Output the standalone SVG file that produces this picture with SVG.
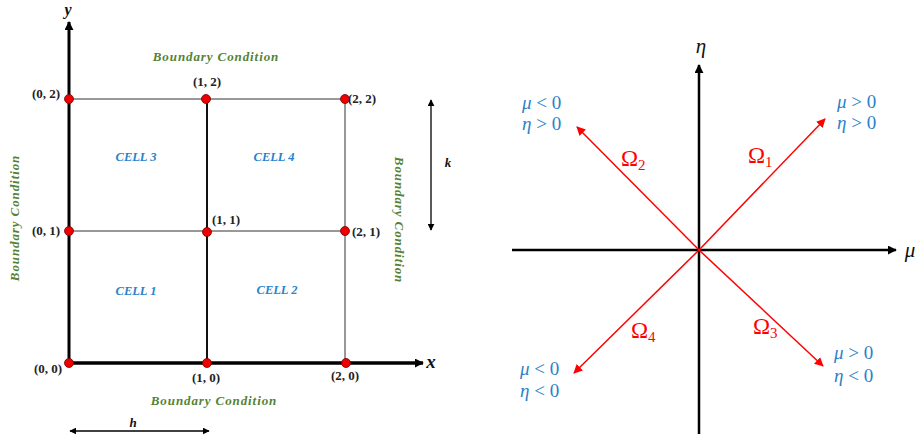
<svg xmlns="http://www.w3.org/2000/svg" width="917" height="440" viewBox="0 0 917 440">
<defs>
<marker id="ab" viewBox="0 0 10 10" refX="9" refY="5" markerWidth="9" markerHeight="9" markerUnits="userSpaceOnUse" orient="auto-start-reverse"><path d="M0,0 L10,5 L0,10 z" fill="#000"/></marker>
<marker id="abs" viewBox="0 0 10 10" refX="9" refY="5" markerWidth="7" markerHeight="7" markerUnits="userSpaceOnUse" orient="auto-start-reverse"><path d="M0,0 L10,5 L0,10 z" fill="#000"/></marker>
<marker id="ar" viewBox="0 0 10 10" refX="9" refY="5" markerWidth="9" markerHeight="9" markerUnits="userSpaceOnUse" orient="auto"><path d="M0,0 L10,5 L0,10 z" fill="#ff0000"/></marker>
</defs>
<style>
.thin{stroke:#333;stroke-width:1;fill:none}
.bc{font-family:"Liberation Serif",serif;font-weight:bold;font-style:italic;font-size:13px;fill:#548235;letter-spacing:0.9px}
.cell{font-family:"Liberation Serif",serif;font-weight:bold;font-style:italic;font-size:12.5px;fill:#2a82c9}
.co{font-family:"Liberation Serif",serif;font-weight:bold;font-size:13px;fill:#222}
.ax{font-family:"Liberation Serif",serif;font-weight:bold;font-style:italic;font-size:19px;fill:#111}
.m{font-family:"Liberation Serif",serif;font-size:19px;fill:#2a82c9}
.i{font-style:italic}
.om{font-family:"Liberation Serif",serif;font-size:23px;fill:#ff0000}
.sub{font-size:15px}
.dot{fill:#ee0000;stroke:#700;stroke-width:0.8}
</style>
<g id="grid">
<line class="thin" x1="69" y1="99" x2="345" y2="99"/>
<line class="thin" x1="69" y1="231" x2="345" y2="231"/>
<line class="thin" x1="345" y1="99" x2="345" y2="363"/>
<line x1="207" y1="99" x2="207" y2="363" stroke="#111" stroke-width="2"/>
</g>
<g id="axes-left">
<line x1="69" y1="363" x2="69" y2="22" stroke="#000" stroke-width="3" marker-end="url(#ab)"/>
<line x1="69" y1="363" x2="423" y2="363" stroke="#000" stroke-width="3.5" marker-end="url(#ab)"/>
<text class="ax" style="font-size:16px" x="68" y="15" text-anchor="middle">y</text>
<text class="ax" x="431" y="368" text-anchor="middle">x</text>
</g>
<g id="nodes">
<circle class="dot" cx="69" cy="99" r="4.5"/>
<circle class="dot" cx="206" cy="99" r="4.5"/>
<circle class="dot" cx="345" cy="99" r="4.5"/>
<circle class="dot" cx="69" cy="231" r="4.5"/>
<circle class="dot" cx="207" cy="232" r="4.5"/>
<circle class="dot" cx="345" cy="231" r="4.5"/>
<circle class="dot" cx="69" cy="363" r="4.5"/>
<circle class="dot" cx="207" cy="363" r="4.5"/>
<circle class="dot" cx="346" cy="363" r="4.5"/>
</g>
<g id="coords">
<text class="co" x="46" y="98" text-anchor="middle">(0, 2)</text>
<text class="co" x="207" y="86" text-anchor="middle">(1, 2)</text>
<text class="co" x="362" y="103" text-anchor="middle">(2, 2)</text>
<text class="co" x="46" y="235" text-anchor="middle">(0, 1)</text>
<text class="co" x="226" y="224" text-anchor="middle">(1, 1)</text>
<text class="co" x="366" y="236" text-anchor="middle">(2, 1)</text>
<text class="co" x="48" y="373" text-anchor="middle">(0, 0)</text>
<text class="co" x="206" y="382" text-anchor="middle">(1, 0)</text>
<text class="co" x="345" y="380" text-anchor="middle">(2, 0)</text>
</g>
<g id="cells">
<text class="cell" x="136" y="161" text-anchor="middle">CELL 3</text>
<text class="cell" x="274" y="161" text-anchor="middle">CELL 4</text>
<text class="cell" x="136" y="295" text-anchor="middle">CELL 1</text>
<text class="cell" x="277" y="294" text-anchor="middle">CELL 2</text>
</g>
<g id="boundary">
<text class="bc" x="216" y="61" text-anchor="middle">Boundary Condition</text>
<text class="bc" x="214" y="405" text-anchor="middle">Boundary Condition</text>
<text class="bc" transform="translate(19,218) rotate(-90)" text-anchor="middle">Boundary Condition</text>
<text class="bc" transform="translate(395,220) rotate(90)" text-anchor="middle">Boundary Condition</text>
</g>
<g id="dims">
<line x1="431" y1="100" x2="431" y2="230" stroke="#000" stroke-width="1.3" marker-start="url(#abs)" marker-end="url(#abs)"/>
<text class="ax" style="font-size:13px" x="448" y="167" text-anchor="middle">k</text>
<line x1="70" y1="431" x2="209" y2="431" stroke="#000" stroke-width="1.3" marker-start="url(#abs)" marker-end="url(#abs)"/>
<text class="ax" style="font-size:13px" x="133" y="427" text-anchor="middle">h</text>
</g>
<g id="axes-right">
<line x1="699" y1="434" x2="699" y2="65" stroke="#000" stroke-width="2.5" marker-end="url(#ab)"/>
<line x1="512" y1="250" x2="896" y2="250" stroke="#000" stroke-width="2.5" marker-end="url(#ab)"/>
<text class="m i" style="fill:#111;font-size:21px" x="701" y="53" text-anchor="middle">η</text>
<text class="m i" style="fill:#111;font-size:21px" x="910" y="257" text-anchor="middle">μ</text>
</g>
<g id="directions">
<line x1="699" y1="250" x2="825" y2="119" stroke="#ff0000" stroke-width="1.5" marker-end="url(#ar)"/>
<line x1="699" y1="250" x2="577" y2="127" stroke="#ff0000" stroke-width="1.5" marker-end="url(#ar)"/>
<line x1="699" y1="250" x2="823" y2="366" stroke="#ff0000" stroke-width="1.5" marker-end="url(#ar)"/>
<line x1="699" y1="250" x2="574" y2="373" stroke="#ff0000" stroke-width="1.5" marker-end="url(#ar)"/>
<text class="om" x="748" y="163">Ω<tspan class="sub" dy="4">1</tspan></text>
<text class="om" x="621" y="166">Ω<tspan class="sub" dy="4">2</tspan></text>
<text class="om" x="753" y="334">Ω<tspan class="sub" dy="4">3</tspan></text>
<text class="om" x="631" y="338">Ω<tspan class="sub" dy="4">4</tspan></text>
</g>
<g id="quadrants">
<text class="m" x="522" y="109"><tspan class="i">μ</tspan> &lt; 0</text>
<text class="m" x="522" y="130"><tspan class="i">η</tspan> &gt; 0</text>
<text class="m" x="837" y="108"><tspan class="i">μ</tspan> &gt; 0</text>
<text class="m" x="837" y="129"><tspan class="i">η</tspan> &gt; 0</text>
<text class="m" x="834" y="359"><tspan class="i">μ</tspan> &gt; 0</text>
<text class="m" x="834" y="382"><tspan class="i">η</tspan> &lt; 0</text>
<text class="m" x="520" y="375"><tspan class="i">μ</tspan> &lt; 0</text>
<text class="m" x="520" y="397"><tspan class="i">η</tspan> &lt; 0</text>
</g>
</svg>
